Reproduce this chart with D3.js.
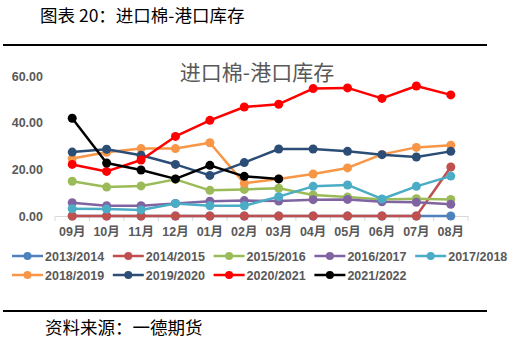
<!DOCTYPE html>
<html>
<head>
<meta charset="utf-8">
<script src="https://cdn.jsdelivr.net/npm/d3@7"></script>
<style>
body{margin:0;background:#fff;}
text{font-family:"Noto Sans CJK SC","DejaVu Sans",sans-serif;}
.tick text,.leg{font-family:"Liberation Sans","Noto Sans CJK SC",sans-serif;}
</style>
</head>
<body>
<svg id="chart"></svg>
<script>
var months=["09月","10月","11月","12月","01月","02月","03月","04月","05月","06月","07月","08月"];
var seriesNames=["2013/2014","2014/2015","2015/2016","2016/2017","2017/2018","2018/2019","2019/2020","2020/2021","2021/2022"];
var colors=["#4F81BD","#C0504D","#9BBB59","#8064A2","#4BACC6","#F79646","#2C4D75","#FF0000","#000000"];
var s1314=[0,0,0,0,0,0,0,0,0,0,0,0];
var s1415=[0,0,0,0,0,0,0,0,0,0,0,21];
var s1516=[14.9,12.4,12.9,15.7,11.0,11.4,11.9,9.0,8.1,7.1,7.4,7.1];
var s1617=[5.7,4.4,4.4,5.4,6.3,6.6,6.4,7.0,7.1,6.1,5.9,5.0];
var s1718=[3.1,3.0,2.6,5.4,4.4,4.4,8.3,12.7,13.3,7.3,12.7,17.1];
var s1819=[24.6,27.3,28.9,28.9,31.4,14.0,15.9,18.0,20.6,26.4,29.4,30.3];
var s1920=[27.4,28.6,26.0,22.1,17.4,22.9,28.7,28.7,27.7,26.3,25.3,27.7];
var s2021=[22.1,19.1,24.0,34.1,41.0,46.7,47.9,54.6,54.9,50.4,55.7,51.9];
var s2122=[41.9,22.7,19.7,15.9,21.7,17.0,15.9];
var yTicks=[0,20,40,60];
var allSeries=[s1314,s1415,s1516,s1617,s1718,s1819,s1920,s2021,s2122];

var w=524;
var h=344;
var svg=d3.select("#chart")
          .attr("width",w)
          .attr("height",h);

// header and footer
svg.append("text")
   .attr("x",40).attr("y",22)
   .attr("font-size",17.5).attr("fill","#000")
   .text("图表 20：进口棉-港口库存");
svg.append("line")
   .attr("x1",3).attr("x2",487).attr("y1",45).attr("y2",45)
   .attr("stroke","#000").attr("stroke-width",2);
svg.append("line")
   .attr("x1",3).attr("x2",487).attr("y1",311).attr("y2",311)
   .attr("stroke","#000").attr("stroke-width",2);
svg.append("text")
   .attr("x",45).attr("y",334)
   .attr("font-size",17.5).attr("fill","#000")
   .text("资料来源：一德期货");

// chart title
svg.append("text")
   .attr("x",257).attr("y",80)
   .attr("text-anchor","middle")
   .attr("font-size",21).attr("fill","#595959")
   .text("进口棉-港口库存");

var xScale=d3.scaleBand()
             .domain(months)
             .range([55,468]);
var yScale=d3.scaleLinear()
             .domain([0,60])
             .range([216,76]);

var xAxis=d3.axisBottom(xScale).tickSize(0).tickPadding(11);
var gx=svg.append("g")
   .attr("transform","translate(0,216)")
   .call(xAxis);
gx.select(".domain").attr("stroke","#d9d9d9");
gx.selectAll("text")
  .attr("font-size",12.5).attr("font-weight","bold").attr("fill","#595959");
// tick marks between categories
gx.selectAll(".sep")
  .data(months.concat(["end"]))
  .enter().append("line")
  .attr("x1",function(d,i){return xScale.range()[0]+i*xScale.step();})
  .attr("x2",function(d,i){return xScale.range()[0]+i*xScale.step();})
  .attr("y1",0).attr("y2",5)
  .attr("stroke","#d9d9d9");

var yAxis=d3.axisLeft(yScale)
            .tickValues(yTicks)
            .tickSize(0)
            .tickPadding(12)
            .tickFormat(d3.format(".2f"));
var gy=svg.append("g")
   .attr("transform","translate(55,0)")
   .call(yAxis);
gy.select(".domain").remove();
gy.selectAll("text")
  .attr("font-size",12.5).attr("font-weight","bold").attr("fill","#595959");

var line=d3.line()
           .x(function(d,i){return xScale(months[i])+xScale.bandwidth()/2;})
           .y(function(d){return yScale(d);});

allSeries.forEach(function(data,k){
  var g=svg.append("g");
  g.append("path")
   .datum(data)
   .attr("d",line)
   .attr("fill","none")
   .attr("stroke",colors[k])
   .attr("stroke-width",2.5)
   .attr("stroke-linejoin","round");
  g.selectAll("circle")
   .data(data)
   .enter().append("circle")
   .attr("cx",function(d,i){return xScale(months[i])+xScale.bandwidth()/2;})
   .attr("cy",function(d){return yScale(d);})
   .attr("r",4.5)
   .attr("fill",colors[k]);
});

// legend
var legend=svg.append("g");
seriesNames.forEach(function(name,k){
  var lx=12+(k%5)*100.8;
  var ly=k<5?256:275;
  var item=legend.append("g").attr("transform","translate("+lx+","+ly+")");
  item.append("line")
      .attr("x1",0).attr("x2",31).attr("y1",0).attr("y2",0)
      .attr("stroke",colors[k]).attr("stroke-width",2.5);
  item.append("circle")
      .attr("cx",15.5).attr("cy",0).attr("r",4)
      .attr("fill",colors[k]);
  item.append("text")
      .attr("class","leg")
      .attr("x",33).attr("y",4.5)
      .attr("font-size",12.5).attr("font-weight","bold").attr("fill","#595959")
      .text(name);
});
</script>
</body>
</html>
